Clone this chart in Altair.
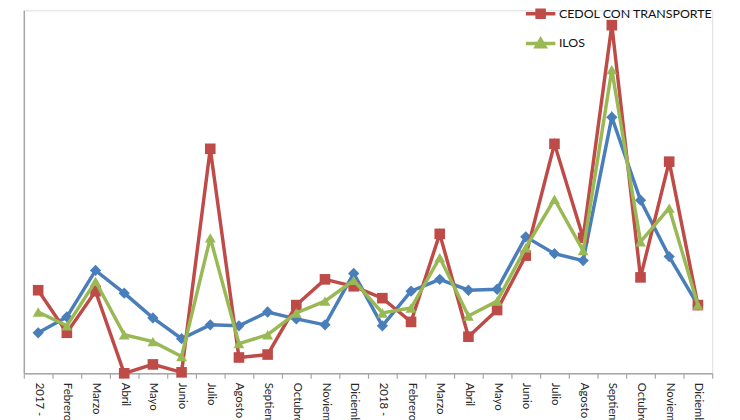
import altair as alt
import pandas as pd

# Month labels (24 months, 2017-2018)
etiquetas = ["2017 - Enero", "Febrero", "Marzo", "Abril", "Mayo", "Junio", "Julio",
             "Agosto", "Septiembre", "Octubre", "Noviembre", "Diciembre",
             "2018 - Enero", "Febrero", "Marzo", "Abril", "Mayo", "Junio", "Julio",
             "Agosto", "Septiembre", "Octubre", "Noviembre", "Diciembre"]

serie_azul_nombre = "CEDOL"
serie_roja_nombre = "CEDOL CON TRANSPORTE"
serie_verde_nombre = "ILOS"

azul = [41, 57, 104, 81, 56, 35, 49, 48, 62, 55, 49, 101,
        48, 83, 95, 84, 85, 138, 121, 114, 259, 175, 118, 69]
rojo = [84, 41, 83, 0, 9, 1, 227, 16, 19, 69, 95, 88,
        76, 52, 141, 37, 64, 119, 232, 137, 352, 97, 214, 69]
verde = [62, 48, 93, 39, 32, 17, 137, 30, 39, 61, 73, 94,
         61, 66, 117, 58, 73, 127, 176, 124, 307, 133, 167, 69]

C_AZUL = "#4a7ebb"
C_ROJO = "#be4b48"
C_VERDE = "#98b954"

rows = []
for nombre, vals in [(serie_azul_nombre, azul), (serie_roja_nombre, rojo), (serie_verde_nombre, verde)]:
    for i, v in enumerate(vals):
        rows.append({"i": i, "valor": v, "serie": nombre})
df = pd.DataFrame(rows)

label_expr = "[" + ",".join("'" + e + "'" for e in etiquetas) + "][datum.value]"

x_enc = alt.X("i:O", bandPosition=0.5,
              scale=alt.Scale(type="band", paddingInner=0, paddingOuter=0),
              axis=alt.Axis(title=None, labelExpr=label_expr, labelAngle=90,
                            labelAlign="left", labelBaseline="middle",
                            labelPadding=4, tickBand="extent", tickSize=5,
                            labelFont="Lato", labelFontSize=11.5, labelColor="#262626",
                            domainColor="#a6a6a6", tickColor="#a6a6a6",
                            domainWidth=1.5, tickWidth=1.2, grid=False))
y_enc = alt.Y("valor:Q", scale=alt.Scale(domain=[0, 367], nice=False, zero=True),
              axis=alt.Axis(title=None, labels=False, ticks=False, grid=False,
                            domainColor="#a6a6a6", domainWidth=1.5))

def capa(nombre, color, forma, tam):
    base = alt.Chart(df).transform_filter(alt.datum.serie == nombre)
    linea = base.mark_line(color=color, strokeWidth=3.5).encode(x=x_enc, y=y_enc)
    puntos = base.mark_point(color=color, shape=forma, filled=True, size=tam, opacity=1).encode(x=x_enc, y=y_enc)
    return linea + puntos

leg_dom = [serie_roja_nombre, serie_verde_nombre]
leg_cols = [C_ROJO, C_VERDE]
leg_paths = ["M-2.7,0H2.7M-0.65,-0.65H0.65V0.65H-0.65Z",
             "M-2.7,0H2.7M0,-0.75L0.8,0.6H-0.8Z"]
leg = alt.Legend(title=None, orient="none", legendX=515, legendY=-4,
                 direction="vertical", symbolSize=121, symbolStrokeWidth=3.5,
                 labelFont="Lato", labelFontSize=12.5, labelColor="#111111",
                 labelOffset=11, rowPadding=7, padding=0, symbolOpacity=1)

leyenda = alt.Chart(df).transform_filter("false").mark_point(filled=True, strokeWidth=3.5).encode(
    x=x_enc, y=y_enc,
    fill=alt.Fill("serie:N", scale=alt.Scale(domain=leg_dom, range=leg_cols), legend=leg),
    stroke=alt.Stroke("serie:N", scale=alt.Scale(domain=leg_dom, range=leg_cols), legend=leg),
    shape=alt.Shape("serie:N", scale=alt.Scale(domain=leg_dom, range=leg_paths), legend=leg),
)

chart = alt.layer(
    capa(serie_azul_nombre, C_AZUL, "diamond", 130),
    capa(serie_roja_nombre, C_ROJO, "square", 115),
    capa(serie_verde_nombre, C_VERDE, "triangle-up", 120),
    leyenda,
).properties(
    width=696, height=367,
    autosize=alt.AutoSizeParams(type="none"),
    padding={"left": 16, "top": 0, "right": 20, "bottom": 60},
).configure_view(stroke=None).configure(background="white")

chart.save("out.html", embed_options={"renderer": "svg", "actions": False})
